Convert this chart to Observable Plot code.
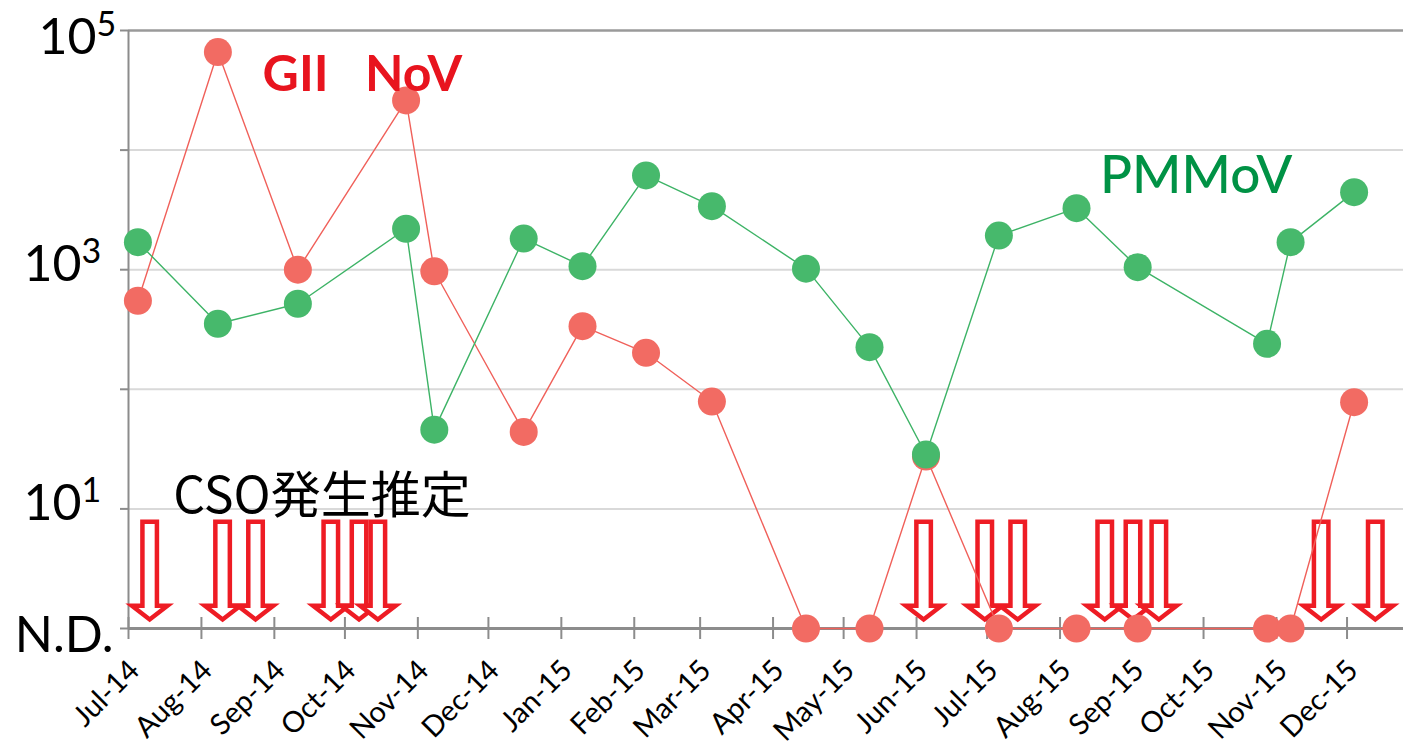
<!DOCTYPE html>
<html>
<head>
<meta charset="utf-8">
<script src="https://cdn.jsdelivr.net/npm/d3@7"></script>
<script src="https://cdn.jsdelivr.net/npm/@observablehq/plot@0.6"></script>
<style>
  html, body { margin: 0; padding: 0; background: #fff; }
  g[aria-label="series-label"] { filter: drop-shadow(2.5px 3px 2px rgba(60,60,60,0.55)); }
</style>
</head>
<body>
<div id="chart"></div>
<script>
// ---------- data ----------
const ND = 1; // "N.D." plotted at the bottom of the log axis
const sampleDates = [
  "2014-07-05", "2014-08-08", "2014-09-11", "2014-10-27", "2014-11-08", "2014-12-16",
  "2015-01-10", "2015-02-06", "2015-03-06", "2015-04-15", "2015-05-12", "2015-06-05",
  "2015-07-06", "2015-08-08", "2015-09-03", "2015-10-28", "2015-11-07", "2015-12-04"
];
// GII NoV (null = N.D.)
const noroValues = [550, 66000, 1000, 26000, 970, 44, 337, 202, 79, null, null, 27.4,
  null, null, null, null, null, 78];
// PMMoV
const pmmovValues = [1700, 353, 519, 2200, 46, 1820, 1070, 6140, 3400, 1020, 225, 28.5,
  1930, 3270, 1050, 240, 1700, 4450];
// estimated CSO events
const csoDates = [
  "2014-07-10", "2014-08-10", "2014-08-24", "2014-09-25", "2014-10-07", "2014-10-15",
  "2015-06-04", "2015-06-30", "2015-07-14", "2015-08-20", "2015-09-01", "2015-09-12",
  "2015-11-20", "2015-12-13"
];
const monthTicks = [
  "2014-07-01", "2014-08-01", "2014-09-01", "2014-10-01", "2014-11-01", "2014-12-01",
  "2015-01-01", "2015-02-01", "2015-03-01", "2015-04-01", "2015-05-01", "2015-06-01",
  "2015-07-01", "2015-08-01", "2015-09-01", "2015-10-01", "2015-11-01", "2015-12-01"
];
const yTickValues = [1, 10, 100, 1000, 10000, 100000];
const yTopLabelValue = [100000];
const yTopLabelExponent = ["5"];
const yLabelValues = [1000, 10];
const yLabelExponents = ["3", "1"];
const yLabelBase = "10";
const ndLabel = "N.D.";
const seriesNames = ["GII\u00a0\u00a0\u00a0NoV", "PMMoV", "CSO発生推定"];
const seriesLabelDates = ["2014-08-27", "2015-08-18", "2014-07-20"];
const seriesLabelValues = [31500, 4340, 9.3];

// ---------- build ----------
const parse = d3.utcParse("%Y-%m-%d");
const noro = sampleDates.map((d, i) => ({date: parse(d), value: noroValues[i] ?? ND}));
const pmmov = sampleDates.map((d, i) => ({date: parse(d), value: pmmovValues[i] ?? ND}));
const cso = csoDates.map(parse);
const months = monthTicks.map(parse);
const yLabels = yLabelValues.map((v, i) => ({value: v, exp: yLabelExponents[i]}));
const yTopLabels = yTopLabelValue.map((v, i) => ({value: v, exp: yTopLabelExponent[i]}));
const labels = seriesNames.map((t, i) => ({text: t, date: parse(seriesLabelDates[i]), value: seriesLabelValues[i]}));

const RED = "#F26B63", RED_LINE = "#F0605A", GREEN = "#47B96C", GREEN_LINE = "#3DB366";
const AXIS = "#8c8c8c";

// hollow down arrow symbol (tip just above the N.D. line)
const downArrow = {
  draw(context, size) {
    const k = Math.sqrt(size / Math.PI) / 20;
    const sw = 7.25 * k, hw = 17.75 * k;
    const top = -106.75 * k, base = -22.75 * k, tip = -9 * k;
    context.moveTo(-sw, top);
    context.lineTo(sw, top);
    context.lineTo(sw, base);
    context.lineTo(hw, base);
    context.lineTo(0, tip);
    context.lineTo(-hw, base);
    context.lineTo(-sw, base);
    context.closePath();
  }
};

const chart = Plot.plot({
  width: 1403,
  height: 747,
  marginTop: 30,
  marginBottom: 119,
  marginLeft: 128,
  marginRight: 0,
  style: {fontFamily: "Lato, 'Noto Sans', sans-serif", background: "#fff", color: "#000"},
  x: {type: "utc", domain: [parse("2014-07-01"), parse("2015-12-25")], label: null},
  y: {type: "log", domain: [1, 100000], label: null},
  marks: [
    // grid
    Plot.ruleY([10, 100, 1000, 10000], {stroke: "#d9d9d9", strokeWidth: 2}),
    Plot.ruleY([100000], {stroke: "#9a9a9a", strokeWidth: 2.5}),
    // axes lines
    Plot.ruleX([parse("2014-07-01")], {y1: 1, y2: 100000, stroke: AXIS, strokeWidth: 2}),
    Plot.axisY({ticks: yTickValues, tickSize: 8, tickFormat: () => "", stroke: AXIS, strokeWidth: 2, label: null}),
    Plot.ruleY([1], {stroke: AXIS, strokeWidth: 3}),
    Plot.axisX({ticks: months, tickSize: 22, dy: -11, tickFormat: () => "", stroke: AXIS, strokeWidth: 2, label: null}),
    Plot.axisX({ticks: months, tickSize: 0, tickPadding: 37, dx: 6, tickRotate: -45, fontSize: 29,
      tickFormat: d3.utcFormat("%b-%y"), label: null}),
    // y labels
    Plot.text(yLabels, {frameAnchor: "left", y: "value", text: () => yLabelBase, textAnchor: "end",
      lineAnchor: "bottom", dx: -47, dy: 11, fontSize: 50}),
    Plot.text(yLabels, {frameAnchor: "left", y: "value", text: "exp", textAnchor: "start",
      lineAnchor: "bottom", dx: -47, dy: -7, fontSize: 34}),
    Plot.text(yTopLabels, {frameAnchor: "left", y: "value", text: () => yLabelBase, textAnchor: "end",
      lineAnchor: "bottom", dx: -32, dy: 23, fontSize: 50}),
    Plot.text(yTopLabels, {frameAnchor: "left", y: "value", text: "exp", textAnchor: "start",
      lineAnchor: "bottom", dx: -32, dy: 5, fontSize: 34}),
    Plot.text([ndLabel], {frameAnchor: "left", y: [ND], text: d => d, textAnchor: "end",
      lineAnchor: "bottom", dx: -15, dy: 23, fontSize: 50}),
    // CSO arrows
    Plot.dot(cso, {x: d => d, y: () => ND, r: 20, symbol: downArrow, fill: "#fff",
      stroke: "#EE1C24", strokeWidth: 4.5, strokeLinejoin: "miter"}),
    // series
    Plot.line(noro, {x: "date", y: "value", stroke: RED_LINE, strokeWidth: 1.4}),
    Plot.dot(noro, {x: "date", y: "value", r: 14, fill: RED}),
    Plot.line(pmmov, {x: "date", y: "value", stroke: GREEN_LINE, strokeWidth: 1.4}),
    Plot.dot(pmmov, {x: "date", y: "value", r: 14, fill: GREEN}),
    // labels
    Plot.text([labels[0]], {x: "date", y: "value", text: "text", textAnchor: "start", lineAnchor: "bottom",
      fill: "#E8141E", fontSize: 50, fontWeight: "bold", ariaLabel: "series-label"}),
    Plot.text([labels[1]], {x: "date", y: "value", text: "text", textAnchor: "start", lineAnchor: "bottom",
      fill: "#009245", fontSize: 53, fontWeight: 500, ariaLabel: "series-label"}),
    Plot.text([labels[2]], {x: "date", y: "value", text: "text", textAnchor: "start", lineAnchor: "bottom",
      fill: "#000", fontSize: 50, fontFamily: "'Noto Sans CJK JP', sans-serif"})
  ]
});
document.getElementById("chart").appendChild(chart);
</script>
</body>
</html>
